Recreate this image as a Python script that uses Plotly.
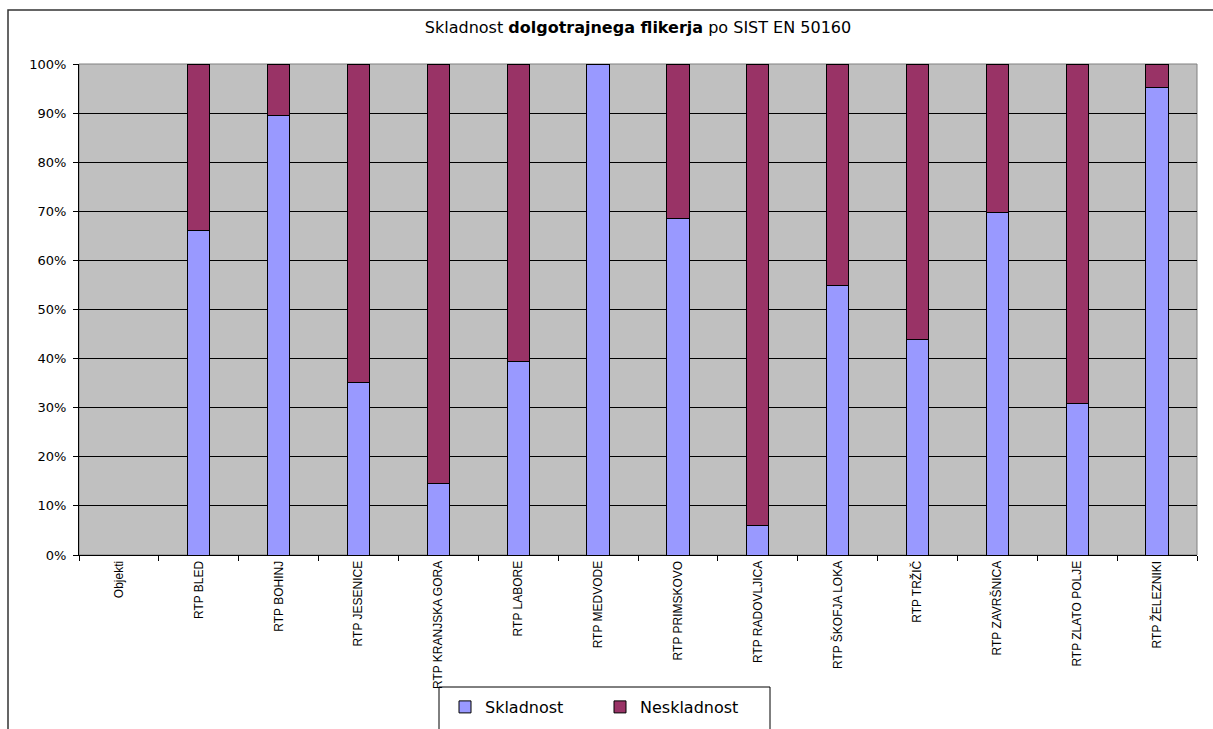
import plotly.graph_objects as go

categories = ["Objekti", "RTP BLED", "RTP BOHINJ", "RTP JESENICE", "RTP KRANJSKA GORA",
              "RTP LABORE", "RTP MEDVODE", "RTP PRIMSKOVO", "RTP RADOVLJICA",
              "RTP ŠKOFJA LOKA", "RTP TRŽIČ", "RTP ZAVRŠNICA", "RTP ZLATO POLJE", "RTP ŽELEZNIKI"]
skladnost = [None, 66.0, 89.5, 35.1, 14.6, 39.4, 100.0, 68.6, 6.1, 54.9, 43.9, 69.8, 30.9, 95.2]
neskladnost = [None, 34.0, 10.5, 64.9, 85.4, 60.6, 0.0, 31.4, 93.9, 45.1, 56.1, 30.2, 69.1, 4.8]
y_ticks = [0, 10, 20, 30, 40, 50, 60, 70, 80, 90, 100]
y_ticktext = ["0%", "10%", "20%", "30%", "40%", "50%", "60%", "70%", "80%", "90%", "100%"]

W, H = 1213, 729
L, R, T, B = 79, 1197, 64, 555

def px(x):
    return (x - L) / (R - L)

def py(y):
    return (B - y) / (B - T)

FONT = "Liberation Sans, Arial, sans-serif"
WIDE = "DejaVu Sans, Arial, sans-serif"

fig = go.Figure()
fig.add_trace(go.Bar(x=categories, y=skladnost, name="Skladnost", width=0.28,
                     marker=dict(color="#9999FF", line=dict(color="#000000", width=1))))
fig.add_trace(go.Bar(x=categories, y=neskladnost, name="Neskladnost", width=0.28,
                     marker=dict(color="#993366", line=dict(color="#000000", width=1))))

shapes = [
    # outer chart frame: only left and top edges are inside the picture
    dict(type="path", xref="paper", yref="paper",
         path=f"M {px(8)} {py(740)} L {px(8)} {py(10)} L {px(1230)} {py(10)}",
         line=dict(color="#333333", width=1.5), fillcolor="rgba(0,0,0,0)", layer="above"),
    # plot-area border (gray)
    dict(type="rect", xref="paper", yref="paper", x0=0, x1=1, y0=0, y1=1,
         line=dict(color="#808080", width=1), fillcolor="rgba(0,0,0,0)", layer="below"),
    # legend box (left, top, right edges)
    dict(type="path", xref="paper", yref="paper",
         path=f"M {px(439)} {py(740)} L {px(439)} {py(687)} L {px(770)} {py(687)} L {px(770)} {py(740)}",
         line=dict(color="#000000", width=1), fillcolor="rgba(0,0,0,0)", layer="above"),
]

fig.update_layout(
    width=W, height=H,
    autosize=False,
    margin=dict(l=L, r=W - R, t=T, b=H - B, autoexpand=False),
    paper_bgcolor="#FFFFFF",
    plot_bgcolor="#C0C0C0",
    barmode="stack",
    font=dict(family=FONT, color="#000000"),
    title=dict(text="Skladnost <b>dolgotrajnega flikerja</b> po SIST EN 50160",
               x=0.5, xref="paper", xanchor="center",
               y=1 - 27 / H, yref="container", yanchor="middle",
               font=dict(family=WIDE, size=16, color="#000000")),
    xaxis=dict(type="category", tickangle=-90, tickfont=dict(family=FONT, size=12),
               showline=True, linecolor="#000000", linewidth=1,
               ticks="outside", tickson="boundaries", ticklen=5, tickcolor="#000000",
               showgrid=False, automargin=False, range=[-0.5, len(categories) - 0.5]),
    yaxis=dict(range=[0, 100], tickvals=y_ticks, ticktext=y_ticktext,
               tickfont=dict(family=WIDE, size=13), automargin=False,
               ticklabelstandoff=4,
               showline=True, linecolor="#000000", linewidth=1,
               ticks="outside", ticklen=5, tickcolor="#000000",
               showgrid=True, gridcolor="#000000", gridwidth=1, zeroline=False),
    showlegend=True,
    legend=dict(orientation="h", x=px(445), xanchor="left",
                yref="container", y=1 - 707 / H, yanchor="middle",
                bgcolor="rgba(0,0,0,0)", borderwidth=0, entrywidth=110, itemwidth=30,
                font=dict(family=WIDE, size=16), traceorder="normal"),
    shapes=shapes,
)

fig.write_html("out.html")
